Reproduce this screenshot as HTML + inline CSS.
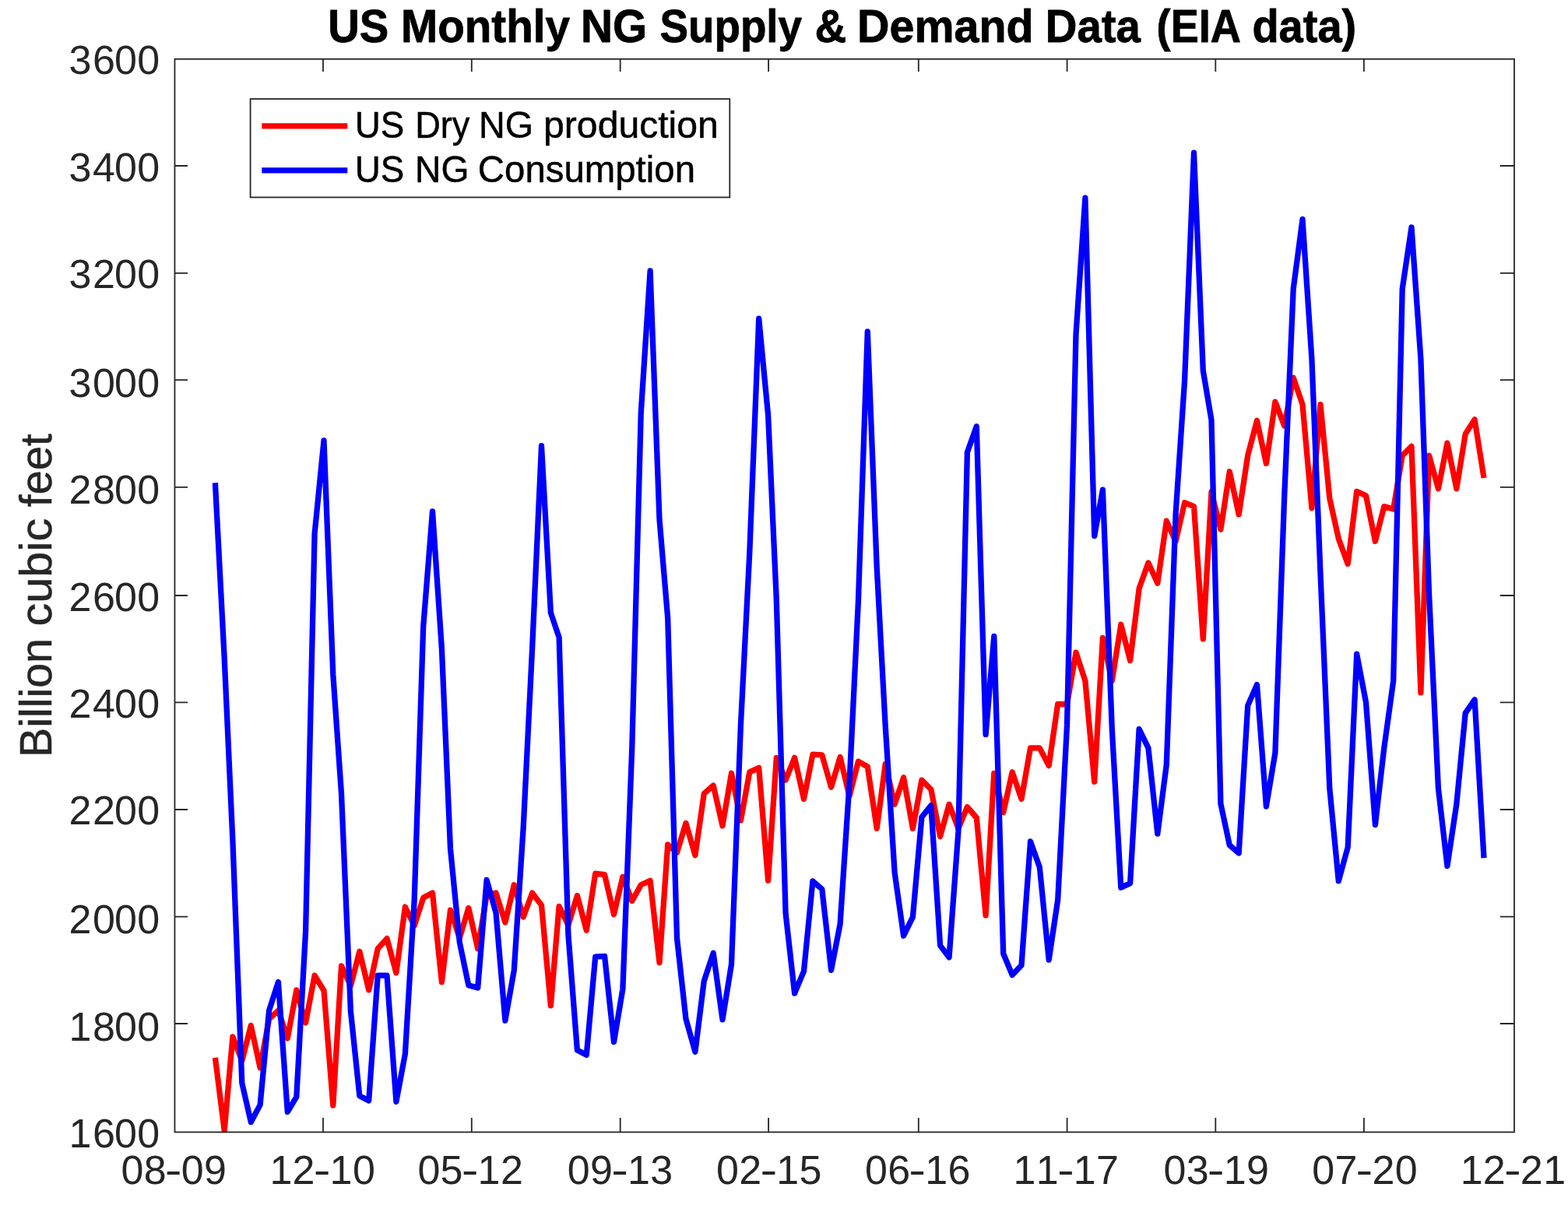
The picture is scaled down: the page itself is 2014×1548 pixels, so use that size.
<!DOCTYPE html>
<html lang="en"><head><meta charset="utf-8"><title>US Monthly NG Supply &amp; Demand Data (EIA data)</title>
<style>html,body{margin:0;padding:0;background:#fff}body{width:2014px;height:1548px;overflow:hidden}svg{display:block}text{font-family:"Liberation Sans",Arial,Helvetica,sans-serif;white-space:pre}.ax{stroke:#262626;stroke-width:1.8;fill:none}</style></head><body>
<svg width="2014" height="1548" viewBox="0 0 2014 1548">
<rect width="2014" height="1548" fill="#fff"/>
<defs><clipPath id="c"><rect x="224.45" y="75.85" width="1720.55" height="1378.55"/></clipPath></defs>
<text transform="translate(0 54.2) scale(1 1.03)" font-weight="bold" font-size="57.2" fill="#000" stroke="#000" stroke-width="0.8" stroke-linejoin="round"><tspan x="421.23" textLength="77.96" lengthAdjust="spacingAndGlyphs">US</tspan> <tspan x="515.12" textLength="216.79" lengthAdjust="spacingAndGlyphs">Monthly</tspan> <tspan x="745.90" textLength="85.22" lengthAdjust="spacingAndGlyphs">NG</tspan> <tspan x="847.52" textLength="182.47" lengthAdjust="spacingAndGlyphs">Supply</tspan> <tspan x="1046.51" textLength="40.85" lengthAdjust="spacingAndGlyphs">&amp;</tspan> <tspan x="1100.96" textLength="226.63" lengthAdjust="spacingAndGlyphs">Demand</tspan> <tspan x="1342.83" textLength="122.01" lengthAdjust="spacingAndGlyphs">Data</tspan> <tspan x="1485.60" textLength="108.43" lengthAdjust="spacingAndGlyphs">(EIA</tspan> <tspan x="1608.40" textLength="133.79" lengthAdjust="spacingAndGlyphs">data)</tspan></text>
<text transform="translate(65.8 0) rotate(-90) scale(1 1.0)" font-size="57.2" fill="#262626" stroke="#262626" stroke-width="0.5" stroke-linejoin="round"><tspan x="-973.06" textLength="153.03" lengthAdjust="spacingAndGlyphs">Billion</tspan> <tspan x="-804.57" textLength="138.69" lengthAdjust="spacingAndGlyphs">cubic</tspan> <tspan x="-651.15" textLength="93.91" lengthAdjust="spacingAndGlyphs">feet</tspan></text>
<g clip-path="url(#c)" fill="none" stroke-width="7.3" stroke-linejoin="round" stroke-linecap="butt">
<polyline stroke="#f00" points="276.4,1358.7 288.2,1452.5 298.9,1331.8 310.8,1362.9 322.3,1317.4 334.1,1371.8 345.6,1309.1 357.4,1298.1 369.3,1333.9 380.8,1271.9 392.6,1313.9 404.1,1253.2 416.0,1272.5 427.8,1420.1 438.5,1240.8 450.4,1266.3 461.8,1222.2 473.7,1271.9 485.2,1218.8 497.0,1205.7 508.9,1249.8 520.4,1165.0 532.2,1189.1 543.7,1153.3 555.5,1147.1 567.4,1261.5 578.5,1169.1 590.3,1205.0 601.8,1166.4 613.7,1218.8 625.1,1150.5 637.0,1147.1 648.9,1185.0 660.3,1136.7 672.2,1178.1 683.7,1147.1 695.5,1162.9 707.4,1291.9 718.1,1164.3 729.9,1188.4 741.4,1150.5 753.3,1195.3 764.7,1122.2 776.6,1123.6 788.5,1174.6 799.9,1126.4 811.8,1157.4 823.3,1136.7 835.1,1131.2 847.0,1236.7 857.7,1085.0 869.5,1095.3 881.0,1057.4 892.9,1098.8 904.3,1019.5 916.2,1009.1 928.0,1060.9 939.5,993.3 951.4,1054.0 962.8,991.9 974.7,986.4 986.6,1131.2 997.3,973.3 1009.1,1002.2 1020.6,973.3 1032.5,1026.4 1043.9,969.1 1055.8,969.8 1067.6,1011.2 1079.1,972.6 1091.0,1022.9 1102.4,978.1 1114.3,985.0 1126.2,1064.3 1137.2,981.6 1149.1,1033.3 1160.6,998.8 1172.4,1064.3 1183.9,1002.2 1195.8,1014.0 1207.6,1074.6 1219.1,1033.3 1230.9,1064.3 1242.4,1036.7 1254.3,1050.5 1266.1,1176.0 1276.8,993.3 1288.7,1043.6 1300.2,991.9 1312.0,1026.4 1323.5,960.9 1335.3,960.9 1347.2,983.6 1358.7,904.3 1370.5,905.0 1382.0,838.1 1393.9,874.7 1405.7,1004.3 1416.4,819.5 1428.3,874.7 1439.8,802.3 1451.6,848.5 1463.1,756.1 1474.9,723.0 1486.8,749.2 1498.3,669.2 1510.1,695.4 1521.6,645.7 1533.5,650.6 1545.3,820.9 1556.0,632.0 1567.9,680.2 1579.3,605.8 1591.2,660.9 1602.7,585.1 1614.5,540.2 1626.4,595.4 1637.9,516.1 1649.7,547.1 1661.2,485.1 1673.0,519.6 1684.9,652.6 1696.0,519.6 1707.8,640.2 1719.3,691.9 1731.2,724.4 1742.7,631.3 1754.5,636.8 1766.4,695.4 1777.8,650.6 1789.7,654.0 1801.2,585.1 1813.0,573.3 1824.9,889.8 1835.6,585.1 1847.4,627.8 1858.9,569.2 1870.8,627.8 1882.2,557.5 1894.1,538.9 1906.0,614.0"/>
<polyline stroke="#00f" points="276.4,620.2 288.2,845.7 298.9,1080.2 310.8,1391.2 322.3,1441.5 334.1,1419.4 345.6,1298.1 357.4,1261.5 369.3,1428.4 380.8,1409.1 392.6,1196.0 404.1,685.7 416.0,565.8 427.8,866.4 438.5,1019.5 450.4,1298.8 461.8,1407.7 473.7,1413.9 485.2,1253.2 497.0,1253.2 508.9,1415.3 520.4,1353.9 532.2,1156.0 543.7,805.0 555.5,656.8 567.4,833.3 578.5,1090.5 590.3,1210.5 601.8,1265.7 613.7,1269.1 625.1,1130.5 637.0,1172.6 648.9,1311.2 660.3,1246.3 672.2,1062.9 683.7,831.2 695.5,572.7 707.4,787.1 718.1,818.8 729.9,1200.8 741.4,1349.1 753.3,1355.3 764.7,1229.1 776.6,1228.4 788.5,1338.7 799.9,1270.5 811.8,960.2 823.3,529.9 835.1,347.9 847.0,667.1 857.7,794.0 869.5,1205.0 881.0,1309.1 892.9,1351.2 904.3,1260.1 916.2,1224.3 928.0,1309.8 939.5,1238.8 951.4,931.9 962.8,709.9 974.7,409.2 986.6,533.4 997.3,770.6 1009.1,1173.3 1020.6,1276.0 1032.5,1247.7 1043.9,1131.9 1055.8,1142.2 1067.6,1246.3 1079.1,1187.0 1091.0,1006.4 1102.4,772.6 1114.3,425.8 1126.2,728.5 1137.2,932.6 1149.1,1120.8 1160.6,1202.2 1172.4,1178.1 1183.9,1049.8 1195.8,1034.7 1207.6,1214.6 1219.1,1229.8 1230.9,1068.4 1242.4,580.9 1254.3,547.8 1266.1,943.6 1276.8,817.4 1288.7,1225.0 1300.2,1252.6 1312.0,1240.1 1323.5,1080.9 1335.3,1114.0 1347.2,1233.2 1358.7,1156.0 1370.5,931.9 1382.0,429.2 1393.9,254.1 1405.7,688.5 1416.4,629.2 1428.3,936.7 1439.8,1140.2 1451.6,1134.6 1463.1,936.7 1474.9,960.9 1486.8,1071.2 1498.3,982.2 1510.1,660.2 1521.6,488.5 1533.5,196.2 1545.3,476.1 1556.0,539.6 1567.9,1032.6 1579.3,1085.7 1591.2,1096.0 1602.7,906.4 1614.5,879.5 1626.4,1036.0 1637.9,967.1 1649.7,637.5 1661.2,371.3 1673.0,281.7 1684.9,460.9 1696.0,736.8 1707.8,1012.6 1719.3,1131.9 1731.2,1088.4 1742.7,840.2 1754.5,902.3 1766.4,1059.5 1777.8,960.9 1789.7,874.7 1801.2,371.3 1813.0,292.0 1824.9,460.9 1835.6,764.4 1847.4,1012.6 1858.9,1112.6 1870.8,1033.3 1882.2,916.1 1894.1,898.8 1906.0,1102.2"/>
</g>
<path class="ax" d="M415.00 1454.4v-18.3M415.00 75.85v16.2M605.80 1454.4v-18.3M605.80 75.85v16.2M796.70 1454.4v-18.3M796.70 75.85v16.2M987.10 1454.4v-18.3M987.10 75.85v16.2M1179.80 1454.4v-18.3M1179.80 75.85v16.2M1370.60 1454.4v-18.3M1370.60 75.85v16.2M1561.30 1454.4v-18.3M1561.30 75.85v16.2M1751.90 1454.4v-18.3M1751.90 75.85v16.2M224.45 213.00h16.6M1945.0 213.00h-18.2M224.45 350.80h16.6M1945.0 350.80h-18.2M224.45 488.20h16.6M1945.0 488.20h-18.2M224.45 625.80h16.6M1945.0 625.80h-18.2M224.45 765.00h16.6M1945.0 765.00h-18.2M224.45 902.30h16.6M1945.0 902.30h-18.2M224.45 1040.00h16.6M1945.0 1040.00h-18.2M224.45 1177.60h16.6M1945.0 1177.60h-18.2M224.45 1315.00h16.6M1945.0 1315.00h-18.2"/>
<rect class="ax" x="224.45" y="75.85" width="1720.55" height="1378.55"/>
<g font-size="52" fill="#262626">
<text y="1521.4"><tspan x="155.46 184.66">08</tspan><tspan x="211.74" textLength="21.82" lengthAdjust="spacingAndGlyphs">-</tspan><tspan x="232.66 261.96">09</tspan></text>
<text y="1521.4"><tspan x="346.38 375.58">12</tspan><tspan x="402.66" textLength="21.82" lengthAdjust="spacingAndGlyphs">-</tspan><tspan x="423.58 452.88">10</tspan></text>
<text y="1521.4"><tspan x="536.38 565.58">05</tspan><tspan x="592.67" textLength="21.82" lengthAdjust="spacingAndGlyphs">-</tspan><tspan x="613.58 642.88">12</tspan></text>
<text y="1521.4"><tspan x="728.87 758.07">09</tspan><tspan x="785.15" textLength="21.82" lengthAdjust="spacingAndGlyphs">-</tspan><tspan x="806.07 835.37">13</tspan></text>
<text y="1521.4"><tspan x="920.12 949.32">02</tspan><tspan x="976.40" textLength="21.82" lengthAdjust="spacingAndGlyphs">-</tspan><tspan x="997.32 1026.62">15</tspan></text>
<text y="1521.4"><tspan x="1110.97 1140.17">06</tspan><tspan x="1167.25" textLength="21.82" lengthAdjust="spacingAndGlyphs">-</tspan><tspan x="1188.17 1217.47">16</tspan></text>
<text y="1521.4"><tspan x="1301.62 1330.82">11</tspan><tspan x="1357.91" textLength="21.82" lengthAdjust="spacingAndGlyphs">-</tspan><tspan x="1378.82 1408.12">17</tspan></text>
<text y="1521.4"><tspan x="1494.61 1523.81">03</tspan><tspan x="1550.89" textLength="21.82" lengthAdjust="spacingAndGlyphs">-</tspan><tspan x="1571.81 1601.11">19</tspan></text>
<text y="1521.4"><tspan x="1685.24 1714.44">07</tspan><tspan x="1741.53" textLength="21.82" lengthAdjust="spacingAndGlyphs">-</tspan><tspan x="1762.44 1791.74">20</tspan></text>
<text y="1521.4"><tspan x="1875.64 1904.84">12</tspan><tspan x="1931.93" textLength="21.82" lengthAdjust="spacingAndGlyphs">-</tspan><tspan x="1952.84 1982.14">21</tspan></text>
</g><g font-size="52" fill="#262626">
<text x="88.4 118.9 147.0 176.2" y="1473.55">1600</text>
<text x="88.4 118.9 147.0 176.2" y="1336.55">1800</text>
<text x="88.4 118.9 147.0 176.2" y="1198.75">2000</text>
<text x="88.4 118.9 147.0 176.2" y="1059.05">2200</text>
<text x="88.4 118.9 147.0 176.2" y="922.10">2400</text>
<text x="88.4 118.9 147.0 176.2" y="784.60">2600</text>
<text x="88.4 118.9 147.0 176.2" y="647.00">2800</text>
<text x="88.4 118.9 147.0 176.2" y="509.65">3000</text>
<text x="88.4 118.9 147.0 176.2" y="370.45">3200</text>
<text x="88.4 118.9 147.0 176.2" y="232.95">3400</text>
<text x="88.4 118.9 147.0 176.2" y="94.75">3600</text>
</g>
<rect x="321.6" y="127.1" width="615.7" height="126.4" fill="#fff" stroke="#262626" stroke-width="1.8"/>
<path d="M336.3 161.8H446.3" stroke="#f00" stroke-width="7.3" fill="none"/>
<path d="M336.3 218.8H446.3" stroke="#00f" stroke-width="7.3" fill="none"/>
<text transform="translate(0 177.3) scale(1 1.03)" font-size="46.8" fill="#000" stroke="#000" stroke-width="0.5" stroke-linejoin="round"><tspan x="455.72" textLength="63.53" lengthAdjust="spacingAndGlyphs">US</tspan> <tspan x="533.14" textLength="70.30" lengthAdjust="spacingAndGlyphs">Dry</tspan> <tspan x="614.91" textLength="70.13" lengthAdjust="spacingAndGlyphs">NG</tspan> <tspan x="698.05" textLength="224.83" lengthAdjust="spacingAndGlyphs">production</tspan></text>
<text transform="translate(0 234.2) scale(1 1.03)" font-size="46.8" fill="#000" stroke="#000" stroke-width="0.5" stroke-linejoin="round"><tspan x="455.72" textLength="63.53" lengthAdjust="spacingAndGlyphs">US</tspan> <tspan x="533.05" textLength="69.46" lengthAdjust="spacingAndGlyphs">NG</tspan> <tspan x="613.84" textLength="279.18" lengthAdjust="spacingAndGlyphs">Consumption</tspan></text>
</svg></body></html>
